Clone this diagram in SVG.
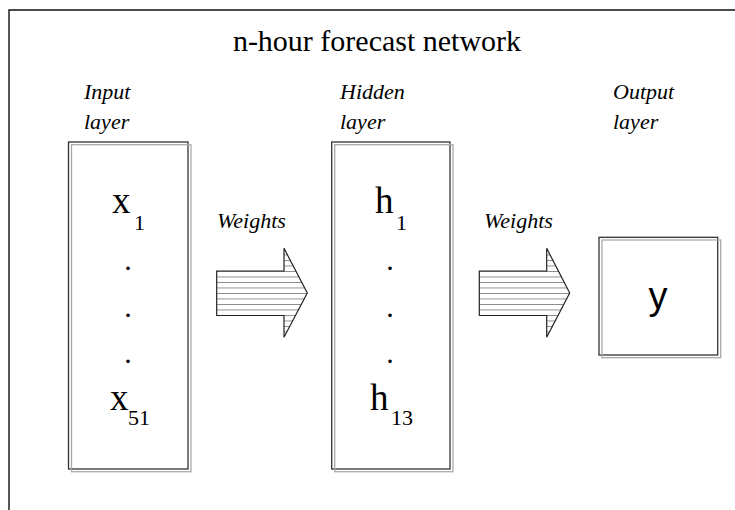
<svg xmlns="http://www.w3.org/2000/svg" width="735" height="510" viewBox="0 0 735 510">
  <style>
    .frame { fill: none; stroke: #111; stroke-width: 1.4; }
    .box { fill: #fff; stroke: #333; stroke-width: 1.3; }
    .shadow { fill: none; stroke: #aaa; stroke-width: 1.3; }
    .title { font-family: "Liberation Serif", "Times New Roman", serif; font-size: 30px; fill: #000; }
    .lbl { font-family: "Liberation Serif", "Times New Roman", serif; font-style: italic; font-size: 22px; fill: #000; }
    .var { font-family: "Liberation Serif", "Times New Roman", serif; font-size: 37px; fill: #000; }
    .sub { font-family: "Liberation Serif", "Times New Roman", serif; font-size: 22px; fill: #000; }
    .dot { font-family: "Liberation Serif", "Times New Roman", serif; font-size: 30px; fill: #000; text-anchor: middle; }
    .out { font-family: "Liberation Sans", Arial, sans-serif; font-size: 38px; fill: #000; text-anchor: middle; }
    .arrow { fill: url(#hatch); stroke: #222; stroke-width: 1.2; stroke-linejoin: miter; }
  </style>
  <defs>
    <!-- horizontal hatching for the block arrows -->
    <pattern id="hatch" patternUnits="userSpaceOnUse" x="0" y="271" width="8" height="5.5">
      <rect x="0" y="0" width="8" height="5.5" fill="#fff"/>
      <line x1="0" y1="0" x2="8" y2="0" stroke="#3a3a3a" stroke-width="1.1"/>
    </pattern>
  </defs>

  <!-- page frame: top and left rules -->
  <path class="frame" d="M9,510 V10 H735"/>

  <text class="title" x="377" y="51" text-anchor="middle">n-hour forecast network</text>

  <!-- input layer -->
  <g id="input-layer">
    <text class="lbl" x="84" y="99">Input</text>
    <text class="lbl" x="84" y="129">layer</text>
    <rect class="box" x="68.5" y="142" width="119.5" height="327"/>
    <rect class="shadow" x="71.5" y="144.7" width="119.5" height="327"/>
    <text class="var" x="112" y="213">x</text>
    <text class="sub" x="134" y="230">1</text>
    <text class="dot" x="128" y="270">.</text>
    <text class="dot" x="128" y="317">.</text>
    <text class="dot" x="128" y="363">.</text>
    <text class="var" x="110" y="410">x</text>
    <text class="sub" x="128" y="425">51</text>
  </g>

  <!-- hidden layer -->
  <g id="hidden-layer">
    <text class="lbl" x="340" y="99">Hidden</text>
    <text class="lbl" x="340" y="129">layer</text>
    <rect class="box" x="331.7" y="142" width="118.3" height="327"/>
    <rect class="shadow" x="334.7" y="144.7" width="118.3" height="327"/>
    <text class="var" x="375" y="213">h</text>
    <text class="sub" x="396" y="230">1</text>
    <text class="dot" x="390" y="270">.</text>
    <text class="dot" x="390" y="317">.</text>
    <text class="dot" x="390" y="363">.</text>
    <text class="var" x="370" y="410">h</text>
    <text class="sub" x="391" y="425">13</text>
  </g>

  <!-- output layer -->
  <g id="output-layer">
    <text class="lbl" x="613" y="99">Output</text>
    <text class="lbl" x="613" y="129">layer</text>
    <rect class="box" x="599" y="237.3" width="118.7" height="117.7"/>
    <rect class="shadow" x="602" y="240" width="118.7" height="117.7"/>
    <text class="out" x="658" y="309">y</text>
  </g>

  <!-- weight connectors -->
  <g id="connectors">
    <text class="lbl" x="217" y="228">Weights</text>
    <path class="arrow" d="M216.7,271 H284 V248.3 L307.3,293 L284,337.3 V315.5 H216.7 Z"/>
    <text class="lbl" x="484" y="228">Weights</text>
    <path class="arrow" d="M479.3,271 H546.7 V248.3 L569.7,293 L546.7,337.3 V315.5 H479.3 Z"/>
  </g>
</svg>
